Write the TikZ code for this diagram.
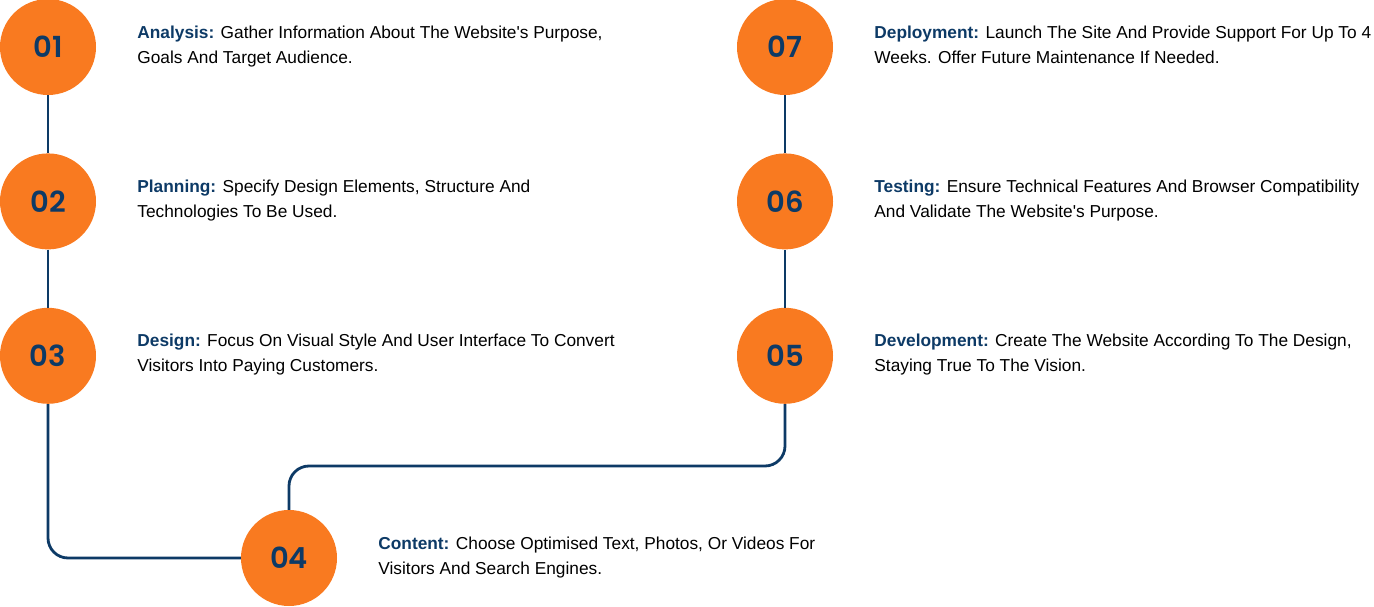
\documentclass[tikz,border=0pt]{standalone}
\usepackage{fontspec}
\setmainfont{Liberation Sans}
\newfontfamily\numfont{Poppins}[BoldFont={* SemiBold}]
\usetikzlibrary{positioning}
\definecolor{stageorange}{HTML}{F97A20}
\definecolor{stageblue}{HTML}{0D3A66}

\begin{document}
\begin{tikzpicture}[x=1pt, y=-1pt,
  node distance=58pt,
  stage/.style={circle, fill=stageorange, minimum size=96pt, inner sep=0pt,
    text=stageblue, font=\numfont\bfseries\fontsize{29}{30}\selectfont},
  info/.style={align=left, inner sep=0pt, yshift=-1pt,
    font=\fontsize{17.3}{25}\selectfont,
    execute at begin node=\strut, execute at end node=\strut},
  track/.style={draw=stageblue, line width=2.8pt, rounded corners=20pt}]

  \useasboundingbox (0,0) rectangle (1374,607);

  \node[stage] (c01) at (48,47) {01};
  \node[stage] (c02) [below=of c01] {02};
  \node[stage] (c03) [below=of c02] {03};
  \node[stage] (c04) at (289,558) {04};
  \node[stage] (c07) at (785,47) {07};
  \node[stage] (c06) [below=of c07] {06};
  \node[stage] (c05) [below=of c06] {05};

  \node[info] (t01) [right=41pt of c01] {\textcolor{stageblue}{\bfseries Analysis:} Gather Information About The Website\textquotesingle s Purpose,\\Goals And Target Audience.};
  \node[info] (t02) [right=41pt of c02] {\textcolor{stageblue}{\bfseries Planning:} Specify Design Elements, Structure And\\Technologies To Be Used.};
  \node[info] (t03) [right=41pt of c03] {\textcolor{stageblue}{\bfseries Design:} Focus On Visual Style And User Interface To Convert\\Visitors Into Paying Customers.};
  \node[info] (t04) [right=41pt of c04] {\textcolor{stageblue}{\bfseries Content:} Choose Optimised Text, Photos, Or Videos For\\Visitors And Search Engines.};
  \node[info] (t05) [right=41pt of c05] {\textcolor{stageblue}{\bfseries Development:} Create The Website According To The Design,\\Staying True To The Vision.};
  \node[info] (t06) [right=41pt of c06] {\textcolor{stageblue}{\bfseries Testing:} Ensure Technical Features And Browser Compatibility\\And Validate The Website\textquotesingle s Purpose.};
  \node[info] (t07) [right=41pt of c07] {\textcolor{stageblue}{\bfseries Deployment:} Launch The Site And Provide Support For Up To 4\\Weeks. Offer Future Maintenance If Needed.};

  \coordinate (bend) at (289,466);

  \draw[track] (c01) -- (c02);
  \draw[track] (c02) -- (c03);
  \draw[track] (c03.south) |- (c04.west);
  \draw[track] (c04.north) -- (bend) -| (c05.south);
  \draw[track] (c05) -- (c06);
  \draw[track] (c06) -- (c07);
\end{tikzpicture}
\end{document}
